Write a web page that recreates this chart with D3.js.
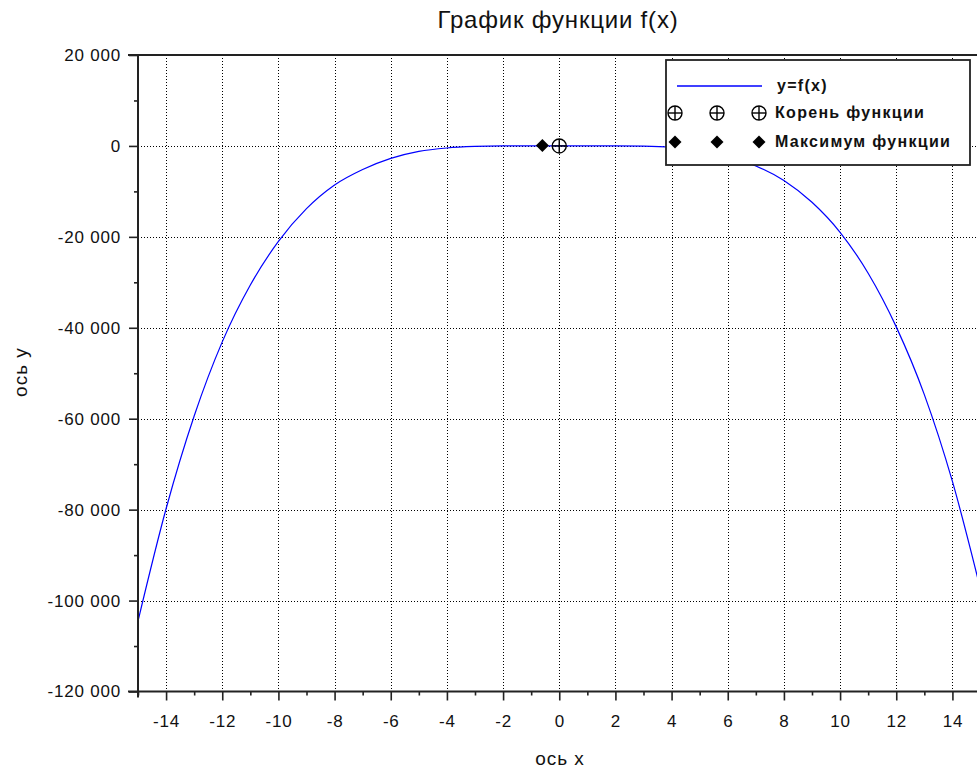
<!DOCTYPE html>
<html>
<head>
<meta charset="utf-8">
<script src="https://cdn.jsdelivr.net/npm/d3@7"></script>
<style>
  body { margin: 0; background: #fff; overflow: hidden; }
</style>
</head>
<body>
<script>
// values
const xValues = [-15, -14, -13, -12, -11, -10, -9, -8, -7, -6, -5, -4, -3, -2, -1, 0,
  1, 2, 3, 4, 5, 6, 7, 8, 9, 10, 11, 12, 13, 14, 15];
const yValues = [-104500, -79800, -59400, -43100, -30600, -21000, -13800, -8600, -5200, -2750, -1200, -450, -120, -10, 0, 0,
  0, 0, -60, -320, -1000, -2300, -4400, -7600, -12400, -19000, -28000, -39800, -54700, -73800, -97500];

const rootPoint = [0, 0];
const maxPoint = [-0.6, 100];

const xTicks = [-14, -12, -10, -8, -6, -4, -2, 0, 2, 4, 6, 8, 10, 12, 14];
const xMinorTicks = [-15, -13, -11, -9, -7, -5, -3, -1, 1, 3, 5, 7, 9, 11, 13, 15];
const yTicks = [20000, 0, -20000, -40000, -60000, -80000, -100000, -120000];
const yMinorTicks = [10000, -10000, -30000, -50000, -70000, -90000, -110000];

const title = "График функции f(x)";
const xLabel = "ось x";
const yLabel = "ось y";
const legendLabels = ["y=f(x)", "Корень функции", "Максимум функции"];

const width = 977;
const height = 769;
const font = "'Liberation Sans', Arial, sans-serif";

const svg = d3.select("body")
  .append("svg")
  .attr("width", width)
  .attr("height", height)
  .style("font-family", font);

const x = d3.scaleLinear().domain([-15, 15]).range([138, 980.5]);
const y = d3.scaleLinear().domain([-120000, 20000]).range([691.5, 55]);

const fmt = d3.formatLocale({ decimal: ",", thousands: " ", grouping: [3], currency: ["", ""], minus: "-" }).format(",d");

// grid
const grid = svg.append("g")
  .attr("stroke", "#000")
  .attr("stroke-width", 1)
  .attr("stroke-dasharray", "1,2");

grid.selectAll("line.gx")
  .data(xTicks)
  .join("line")
  .attr("class", "gx")
  .attr("x1", d => Math.round(x(d)) + 0.5)
  .attr("x2", d => Math.round(x(d)) + 0.5)
  .attr("y1", y(20000))
  .attr("y2", y(-120000));

grid.selectAll("line.gy")
  .data(yTicks.filter(d => d < 20000 && d > -120000))
  .join("line")
  .attr("class", "gy")
  .attr("y1", d => Math.round(y(d)) + 0.5)
  .attr("y2", d => Math.round(y(d)) + 0.5)
  .attr("x1", x(-15))
  .attr("x2", x(15));

// curve
const pts = xValues.map((v, i) => [v, yValues[i]]);
const line = d3.line()
  .x(d => x(d[0]))
  .y(d => y(d[1]))
  .curve(d3.curveMonotoneX);

svg.append("path")
  .datum(pts)
  .attr("fill", "none")
  .attr("stroke", "#0000ff")
  .attr("stroke-width", 1.2)
  .attr("d", line);

// markers
function plusCircle(g, cx, cy) {
  const r = 7;
  g.append("circle").attr("cx", cx).attr("cy", cy).attr("r", r)
    .attr("fill", "none").attr("stroke", "#000").attr("stroke-width", 1.4);
  g.append("line").attr("x1", cx - r).attr("x2", cx + r).attr("y1", cy).attr("y2", cy)
    .attr("stroke", "#000").attr("stroke-width", 1.4);
  g.append("line").attr("x1", cx).attr("x2", cx).attr("y1", cy - r).attr("y2", cy + r)
    .attr("stroke", "#000").attr("stroke-width", 1.4);
}
function diamond(g, cx, cy) {
  const r = 6.5;
  g.append("path")
    .attr("d", `M${cx},${cy - r}L${cx + r},${cy}L${cx},${cy + r}L${cx - r},${cy}Z`)
    .attr("fill", "#000");
}

const marks = svg.append("g");
diamond(marks, x(maxPoint[0]), y(maxPoint[1]));
plusCircle(marks, x(rootPoint[0]), y(rootPoint[1]));

// axes
const xAxis = svg.append("g")
  .attr("transform", `translate(0,${y(-120000)})`)
  .call(d3.axisBottom(x).tickValues(xTicks).tickSize(9).tickSizeOuter(0).tickPadding(14).tickFormat(d => d));
const xMinor = svg.append("g")
  .attr("transform", `translate(0,${y(-120000)})`)
  .call(d3.axisBottom(x).tickValues(xMinorTicks).tickSize(4).tickSizeOuter(0).tickFormat(""));
const yAxis = svg.append("g")
  .attr("transform", `translate(${x(-15)},0)`)
  .call(d3.axisLeft(y).tickValues(yTicks).tickSize(9).tickSizeOuter(0).tickPadding(8).tickFormat(fmt));
const yMinor = svg.append("g")
  .attr("transform", `translate(${x(-15)},0)`)
  .call(d3.axisLeft(y).tickValues(yMinorTicks).tickSize(4).tickSizeOuter(0).tickFormat(""));

[xAxis, xMinor, yAxis, yMinor].forEach(g => {
  g.select(".domain").remove();
  g.selectAll(".tick line").attr("stroke", "#222").attr("stroke-width", 1.6);
  g.selectAll(".tick text")
    .attr("fill", "#111")
    .style("font-family", font)
    .style("font-size", "17px")
    .style("letter-spacing", "0.8px");
});

// box lines
svg.append("line")
  .attr("x1", x(-15)).attr("x2", x(-15))
  .attr("y1", y(20000)).attr("y2", y(-120000) + 6)
  .attr("stroke", "#222").attr("stroke-width", 2);
svg.append("line")
  .attr("x1", x(-15) - 10).attr("x2", x(15))
  .attr("y1", y(-120000)).attr("y2", y(-120000))
  .attr("stroke", "#222").attr("stroke-width", 2);
svg.append("line")
  .attr("x1", x(-15) - 10).attr("x2", x(15))
  .attr("y1", y(20000)).attr("y2", y(20000))
  .attr("stroke", "#222").attr("stroke-width", 2);

// title and axis labels
svg.append("text")
  .attr("x", 558).attr("y", 28)
  .attr("text-anchor", "middle")
  .style("font-size", "24px")
  .style("letter-spacing", "0.8px")
  .attr("fill", "#111")
  .text(title);

svg.append("text")
  .attr("x", 560).attr("y", 765)
  .attr("text-anchor", "middle")
  .style("font-size", "19px")
  .style("letter-spacing", "1px")
  .attr("fill", "#111")
  .text(xLabel);

svg.append("text")
  .attr("transform", "translate(27,372) rotate(-90)")
  .attr("text-anchor", "middle")
  .style("font-size", "19px")
  .style("letter-spacing", "1px")
  .attr("fill", "#111")
  .text(yLabel);

// legend
const legend = svg.append("g");
legend.append("rect")
  .attr("x", 666).attr("y", 60)
  .attr("width", 304).attr("height", 105)
  .attr("fill", "#fff")
  .attr("stroke", "#222")
  .attr("stroke-width", 1.8);

const rowY = [86, 113, 142];
const markX = [675, 717, 759];

legend.append("line")
  .attr("x1", 677).attr("x2", 762)
  .attr("y1", rowY[0]).attr("y2", rowY[0])
  .attr("stroke", "#0000ff").attr("stroke-width", 1.5);
markX.forEach(mx => plusCircle(legend, mx, rowY[1]));
markX.forEach(mx => diamond(legend, mx, rowY[2]));

legend.selectAll("text")
  .data(legendLabels)
  .join("text")
  .attr("x", (d, i) => i === 0 ? 777 : 775)
  .attr("y", (d, i) => rowY[i] + 5)
  .style("font-size", "16px")
  .style("font-weight", "bold")
  .style("letter-spacing", "1.3px")
  .attr("fill", "#111")
  .text(d => d);
</script>
</body>
</html>
